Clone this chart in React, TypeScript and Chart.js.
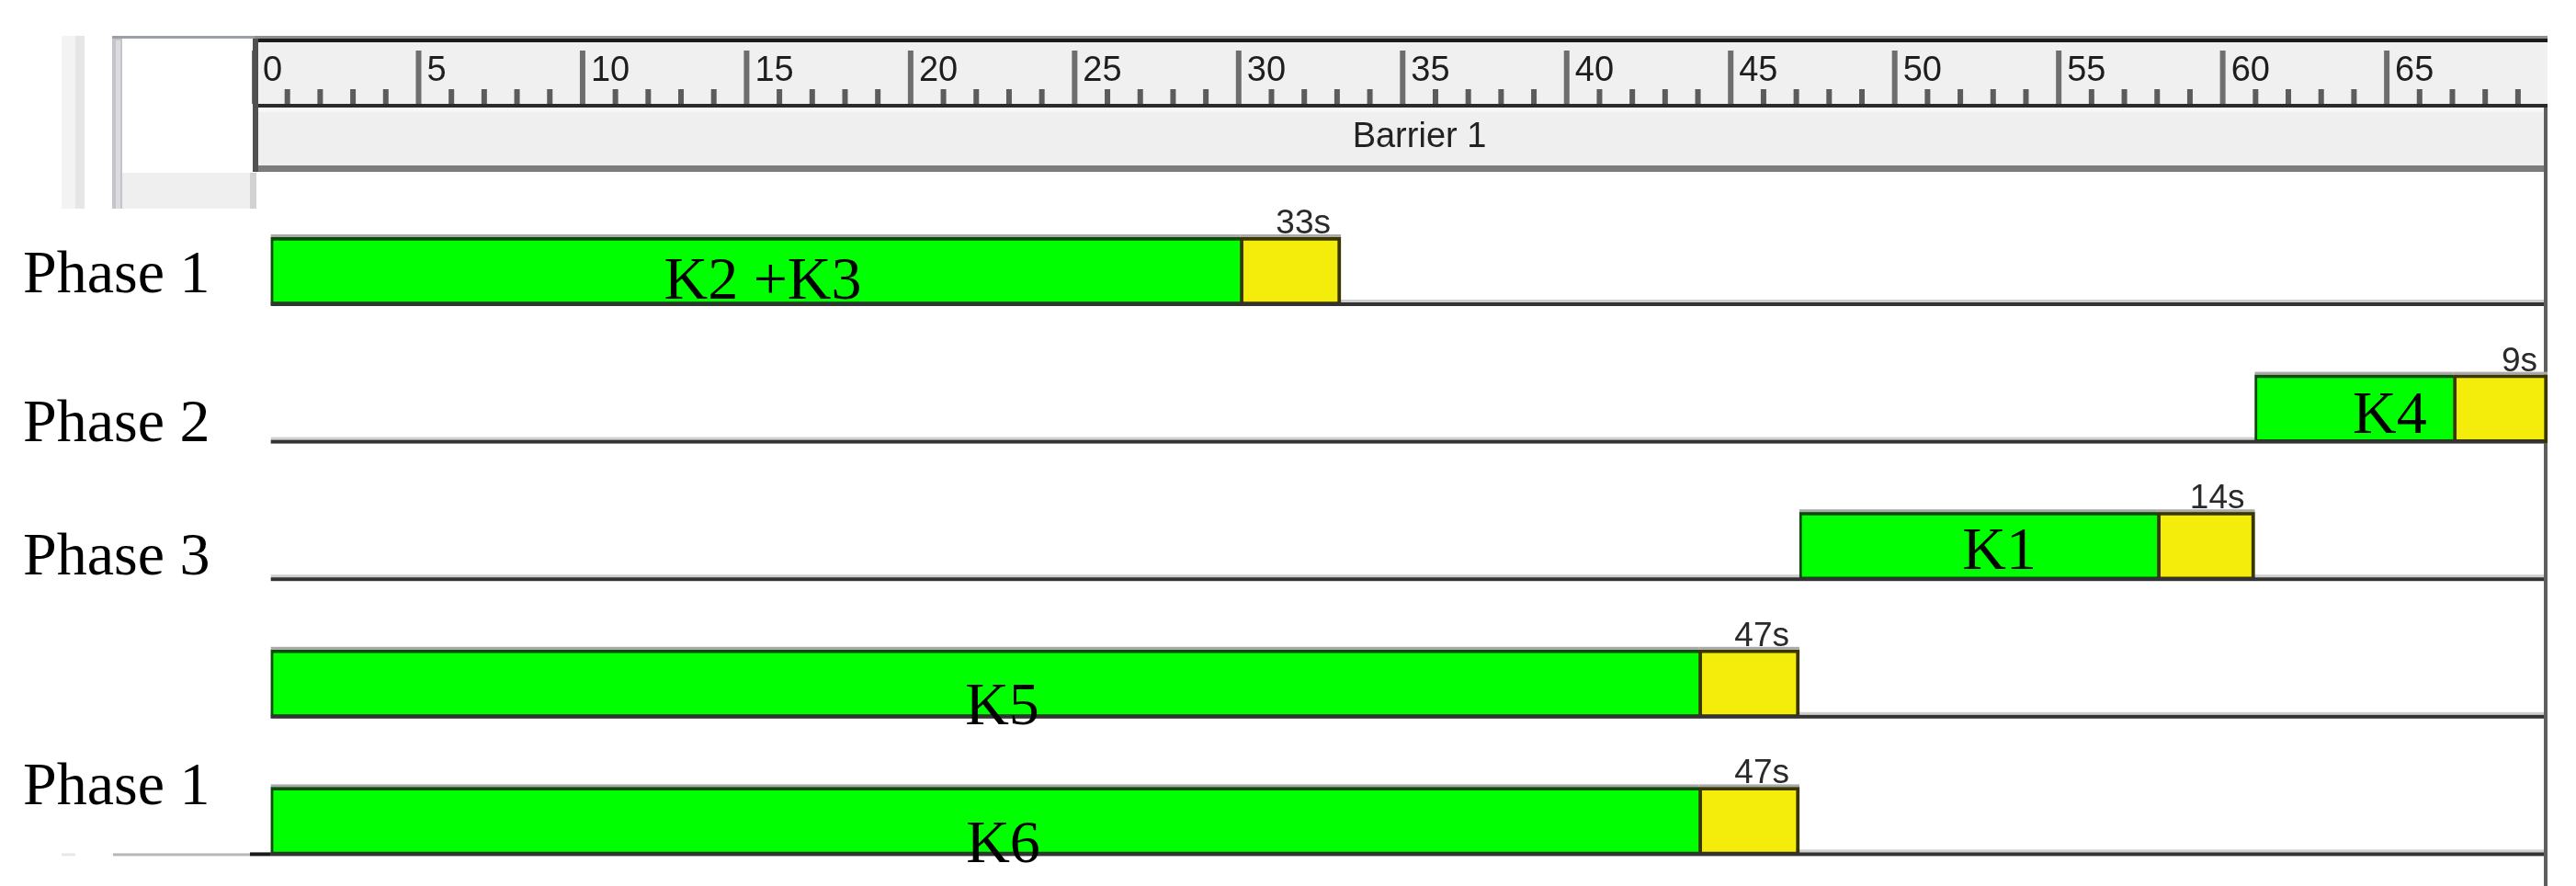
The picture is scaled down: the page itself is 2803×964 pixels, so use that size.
import { useEffect, useRef } from 'react';
import { Chart, registerables } from 'chart.js';

Chart.register(...registerables);

// ---- data ----
const rowLabels = ['Phase 1', 'Phase 2', 'Phase 3', '', 'Phase 1'];
const greenRanges: [number, number][] = [[0, 29.8], [61, 67.1], [47, 58], [0, 43.9], [0, 43.9]];
const amberRanges: [number, number][] = [[29.8, 32.9], [67.1, 70], [58, 61], [43.9, 47], [43.9, 47]];
const barTexts = ['K2 +K3', 'K4', 'K1', 'K5', 'K6'];
const durationTexts = ['33s', '9s', '14s', '47s', '47s'];
const headerLabel = 'Barrier 1';
const rulerMajorTicks = [0, 5, 10, 15, 20, 25, 30, 35, 40, 45, 50, 55, 60, 65];
const rulerTickLabels = ['0', '5', '10', '15', '20', '25', '30', '35', '40', '45', '50', '55', '60', '65'];
const rulerMinorTicks = [
  1, 2, 3, 4, 6, 7, 8, 9, 11, 12, 13, 14, 16, 17, 18, 19, 21, 22, 23, 24,
  26, 27, 28, 29, 31, 32, 33, 34, 36, 37, 38, 39, 41, 42, 43, 44, 46, 47, 48, 49,
  51, 52, 53, 54, 56, 57, 58, 59, 61, 62, 63, 64, 66, 67, 68, 69,
];
const rulerMax = 69.9;

// ---- styling (not data) ----
const labelDy = [23, 35, 31, 0, -18.5];
const textDx = [8, 39, 23, 19, 20];
const textDy = [30, 26, 25, 44, 44.5];
const SANS = '"Liberation Sans", Arial, sans-serif';
const SERIF = '"Liberation Serif", "Times New Roman", serif';

const decorPlugin = {
  id: 'decor',
  beforeDraw(chart: any) {
    const ctx = chart.ctx;
    const ruler = chart.scales.ruler;
    const xs = chart.scales.x;
    const R = chart.chartArea.right;
    const L = ruler.getPixelForValue(0);
    ctx.save();
    // left side panel decorations
    ctx.fillStyle = '#f3f3f3'; ctx.fillRect(67, 39, 15, 188);
    ctx.fillStyle = '#e6e6e6'; ctx.fillRect(82, 39, 10, 188);
    ctx.fillStyle = '#c4c4ca'; ctx.fillRect(122, 39, 11, 188);
    ctx.fillStyle = '#dcdce0'; ctx.fillRect(126, 44, 5, 183);
    ctx.fillStyle = '#9aa0a6'; ctx.fillRect(122, 39, 155, 3);
    ctx.fillStyle = '#efefef'; ctx.fillRect(133, 188, 139, 39);
    ctx.fillStyle = '#d2d2d2'; ctx.fillRect(272, 188, 7, 39);
    // ruler background
    ctx.fillStyle = '#f0f0f0'; ctx.fillRect(L, 46, R - L, 67);
    ctx.fillStyle = '#8e8e8e'; ctx.fillRect(L, 39, R - L, 3);
    ctx.fillStyle = '#1c1c1c'; ctx.fillRect(L, 42, R - L, 4);
    // barrier band
    ctx.fillStyle = '#efefef'; ctx.fillRect(L, 117, R - L, 63);
    ctx.fillStyle = '#f7f7f7'; ctx.fillRect(L, 117, R - L, 5);
    ctx.fillStyle = '#7c7c7c'; ctx.fillRect(L, 180, R - L, 7);
    // ticks
    ctx.fillStyle = '#5c5c5c';
    rulerMinorTicks.forEach((v) => {
      const px = ruler.getPixelForValue(v);
      ctx.fillRect(px - 3, 97, 6, 16);
    });
    ctx.fillStyle = '#6e6e6e';
    rulerMajorTicks.forEach((v) => {
      const px = ruler.getPixelForValue(v);
      ctx.fillRect(px - 3, 55, 6, 58);
    });
    ctx.fillStyle = '#2b2b2b'; ctx.fillRect(L, 113, R - L, 4);
    ctx.fillStyle = '#505050'; ctx.fillRect(L - 2, 42, 6, 145);
    ctx.font = `38px ${SANS}`;
    ctx.fillStyle = '#1e1e1e';
    ctx.textAlign = 'left';
    ctx.textBaseline = 'alphabetic';
    rulerMajorTicks.forEach((v, i) => {
      const px = ruler.getPixelForValue(v);
      ctx.fillText(rulerTickLabels[i], px + 9, 88);
    });
    ctx.textAlign = 'center';
    ctx.fillStyle = '#222';
    ctx.fillText(headerLabel, (L + R) / 2 + 20, 160);
    // right frame line
    ctx.fillStyle = '#5e5e5e'; ctx.fillRect(R - 4, 117, 4, 964 - 117);
    // light lines above row baselines
    const ys = chart.scales.y;
    const x0 = xs.getPixelForValue(0);
    rowLabels.forEach((_, i) => {
      const c = ys.getPixelForValue(i);
      ctx.fillStyle = '#cfcfcf';
      ctx.fillRect(x0, c + 31, R - 4 - x0, 3);
    });
    ctx.restore();
  },
  afterDatasetsDraw(chart: any) {
    const ctx = chart.ctx;
    const xs = chart.scales.x;
    const ys = chart.scales.y;
    const R = chart.chartArea.right;
    const x0 = xs.getPixelForValue(0);
    ctx.save();
    // grey highlight above every bar
    chart.data.datasets.forEach((_: any, di: number) => {
      const meta = chart.getDatasetMeta(di);
      meta.data.forEach((el: any) => {
        const p = el.getProps(['x', 'y', 'base', 'height'], true);
        const left = Math.min(p.x, p.base);
        ctx.fillStyle = '#a9a9a9';
        ctx.fillRect(left, p.y - p.height / 2 - 3, Math.abs(p.x - p.base), 3);
      });
    });
    // dark row baselines
    rowLabels.forEach((_, i) => {
      const c = ys.getPixelForValue(i);
      ctx.fillStyle = '#333333';
      ctx.fillRect(x0, c + 34, R - 4 - x0, 4);
    });
    const cLast = ys.getPixelForValue(rowLabels.length - 1);
    ctx.fillStyle = '#1a1a1a'; ctx.fillRect(272, cLast + 34, x0 - 272, 4);
    ctx.fillStyle = '#b8b8b8'; ctx.fillRect(123, cLast + 35, 149, 3);
    ctx.fillStyle = '#e8e8e8'; ctx.fillRect(67, cLast + 35, 15, 3);
    // row labels
    ctx.font = `66px ${SERIF}`;
    ctx.fillStyle = '#000';
    ctx.textAlign = 'left';
    ctx.textBaseline = 'alphabetic';
    rowLabels.forEach((lab, i) => {
      if (!lab) return;
      ctx.fillText(lab, 25, ys.getPixelForValue(i) + labelDy[i]);
    });
    // bar texts
    const gMeta = chart.getDatasetMeta(0);
    ctx.textAlign = 'center';
    gMeta.data.forEach((el: any, i: number) => {
      const p = el.getProps(['x', 'y', 'base'], true);
      ctx.fillText(barTexts[i], (p.x + p.base) / 2 + textDx[i], p.y + textDy[i]);
    });
    // duration labels
    const aMeta = chart.getDatasetMeta(1);
    ctx.font = `37px ${SANS}`;
    ctx.fillStyle = '#2a2a2a';
    ctx.textAlign = 'right';
    aMeta.data.forEach((el: any, i: number) => {
      const p = el.getProps(['x', 'y', 'height'], true);
      ctx.fillText(durationTexts[i], p.x - 11, p.y - p.height / 2 - 4);
    });
    ctx.restore();
  },
};

export default function App() {
  const ref = useRef<HTMLCanvasElement | null>(null);
  useEffect(() => {
    if (!ref.current) return;
    const chart = new Chart(ref.current, {
      type: 'bar',
      data: {
        labels: rowLabels,
        datasets: [
          {
            label: 'Green',
            data: greenRanges as any,
            backgroundColor: '#00ff00',
            borderColor: '#0b4a0b',
            borderWidth: { top: 4, bottom: 4, left: 3, right: 0 },
            borderSkipped: false,
            barThickness: 74,
            grouped: false,
            clip: false as any,
          },
          {
            label: 'Amber',
            data: amberRanges as any,
            backgroundColor: '#f4ec0a',
            borderColor: '#3a3600',
            borderWidth: 4,
            borderSkipped: false,
            barThickness: 74,
            grouped: false,
            clip: false as any,
          },
        ],
      },
      options: {
        indexAxis: 'y',
        responsive: false,
        animation: false,
        devicePixelRatio: 1,
        layout: { padding: { left: 277, right: 31, top: 295, bottom: 70.6 } },
        scales: {
          x: { type: 'linear', min: -0.5, max: 70, display: false },
          ruler: { type: 'linear', axis: 'x', position: 'top', min: 0, max: rulerMax, display: false },
          y: { type: 'category', offset: false, display: false },
        } as any,
        plugins: { legend: { display: false }, tooltip: { enabled: false } },
      },
      plugins: [decorPlugin],
    });
    return () => chart.destroy();
  }, []);
  return (
    <div style={{ position: 'fixed', left: 0, top: 0, width: 2803, height: 964, background: '#fff' }}>
      <canvas ref={ref} width={2803} height={964} style={{ display: 'block' }} />
    </div>
  );
}
